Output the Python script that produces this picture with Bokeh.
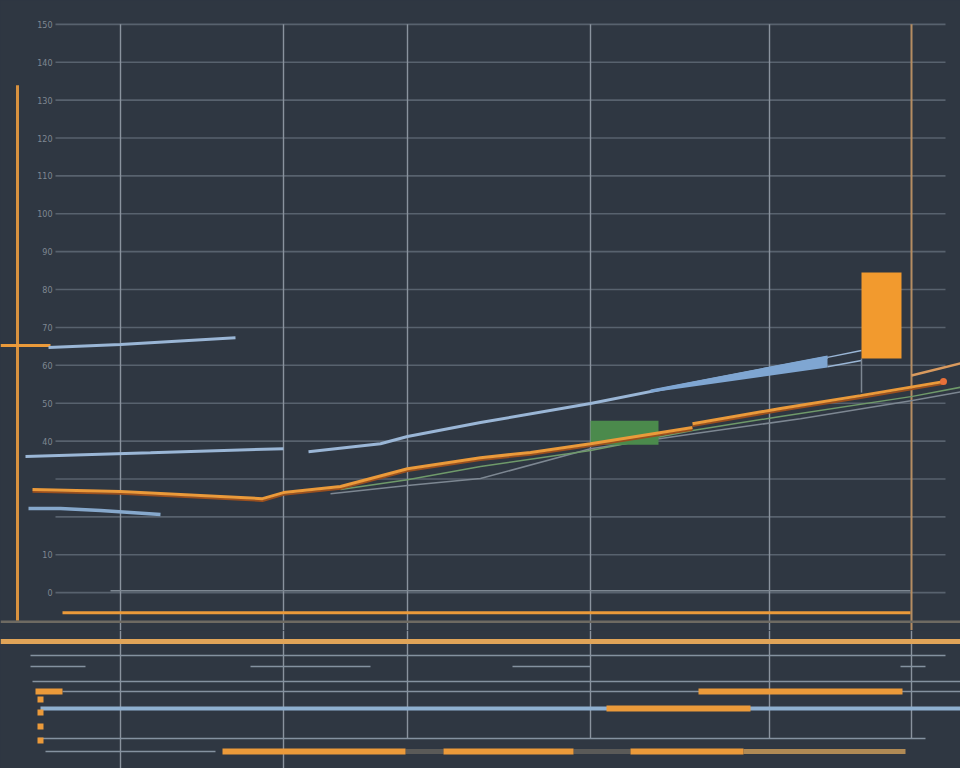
from bokeh.plotting import figure
from bokeh.layouts import column
from bokeh.models import Range1d
from bokeh.embed import file_html
from bokeh.resources import INLINE
from bokeh.core.properties import value

BG = "#2f3742"
GRID = "#58626e"
VGRID = "#8a939e"
ORANGE = "#eb9a3a"
BLUE = "#9ab6d6"
GREEN = "#6f9a6a"
GRAY = "#7d8792"

# ---------------- data: main panel ----------------
y_ticks = [0, 10, 40, 50, 60, 70, 80, 90, 100, 110, 120, 130, 140, 150]
y_grid = [0, 10, 20, 30, 40, 50, 60, 70, 80, 90, 100, 110, 120, 130, 140, 150]
x_grid = [120, 283, 407, 590, 769]
x_marker = [911]
x_left_axis = [17]

blue1_x = [48, 120, 235]
blue1_y = [64.7, 65.5, 67.3]

blue2a_x = [25, 150, 283]
blue2a_y = [35.9, 36.9, 38.0]
blue2b_x = [308, 380, 407, 480, 590, 700, 827]
blue2b_y = [37.2, 39.3, 41.2, 44.9, 49.9, 55.7, 62.1]
wedge_x = [650, 827, 827, 650]
wedge_y = [53.6, 62.6, 59.4, 52.8]
fork_x0 = [827, 827]
fork_y0 = [62.1, 59.6]
fork_x1 = [861, 861]
fork_y1 = [63.9, 61.3]

blue3_x = [28, 60, 100, 160]
blue3_y = [22.2, 22.2, 21.7, 20.6]

orangeA_x = [32, 120, 225, 262, 283, 340, 407, 480, 530, 590, 692]
orangeA_y = [27.2, 26.7, 25.3, 24.8, 26.4, 28.0, 32.7, 35.6, 37.0, 39.3, 43.6]
orangeB_x = [692, 780, 860, 943]
orangeB_y = [44.6, 48.6, 52.0, 55.7]
orangeC_x = [911, 960]
orangeC_y = [57.3, 60.5]
left_stub_x = [0, 50]
left_stub_y = [65.2, 65.2]

green_x = [340, 407, 480, 590, 692, 780, 912, 960]
green_y = [27.2, 29.8, 33.3, 37.5, 42.8, 46.5, 51.8, 54.2]
gray_x = [330, 407, 480, 590, 700, 800, 912, 960]
gray_y = [26.1, 28.3, 30.1, 38.0, 42.2, 45.9, 50.7, 53.0]

green_box = dict(left=[590], right=[658], top=[45.4], bottom=[39.0])
orange_box = dict(left=[861], right=[901], top=[84.5], bottom=[61.8])

base_gray_y = 0.5
base_orange_y = -5.3
base_tan_y = -7.7

# ---------------- data: timeline panel ----------------
tl_line_x0 = [30, 32, 62, 38, 45, 30, 250, 512, 900]
tl_line_x1 = [945, 960, 960, 925, 215, 85, 370, 590, 925]
tl_line_row = [10.5, 7.9, 6.9, 2.2, 0.9, 9.4, 9.4, 9.4, 9.4]

tl_bar_x0 = [35, 698, 606, 222, 443, 630]
tl_bar_x1 = [62, 902, 750, 405, 573, 743]
tl_bar_row = [6.9, 6.9, 5.2, 0.9, 0.9, 0.9]

tl_dark_x0 = [405, 573]
tl_dark_x1 = [443, 630]
tl_dark_row = [0.9, 0.9]
tl_tan_x0 = [743]
tl_tan_x1 = [905]
tl_tan_row = [0.9]

tl_blue_x = [40, 960]
tl_blue_row = [5.2, 5.2]
tl_top_x = [0, 960]
tl_top_row = [11.9, 11.9]

tl_marks_x = [40, 40, 40, 40]
tl_marks_row = [6.1, 4.8, 3.4, 2.0]


def style(fig):
    fig.background_fill_color = BG
    fig.border_fill_color = BG
    fig.outline_line_color = None
    fig.min_border = 0


# ---------------- main panel ----------------
p = figure(width=960, height=630, x_range=Range1d(0, 960), y_range=Range1d(-10, 156.3),
           x_axis_type=None, y_axis_type=None, output_backend="svg",
           toolbar_location=None, min_border=0)
style(p)

p.segment(x0=55, x1=945, y0=y_grid, y1=y_grid, line_color=GRID, line_width=1.6)
p.segment(x0=x_grid, x1=x_grid, y0=150, y1=-10, line_color=VGRID, line_width=1.4)
p.segment(x0=x_marker, x1=x_marker, y0=150, y1=-10, line_color="#b58d62", line_width=2)
p.segment(x0=x_left_axis, x1=x_left_axis, y0=133.9, y1=-7.4, line_color="#d9923f", line_width=3)

p.text(x=52, y=y_ticks, text=[str(v) for v in y_ticks], text_font=value("DejaVu Sans"),
       text_font_size="8px", text_color="#7f8892", text_align="right", text_baseline="middle")

# baselines
p.line([110, 910], [base_gray_y, base_gray_y], line_color=GRAY, line_width=1.5)
p.line([62, 910], [base_orange_y, base_orange_y], line_color=ORANGE, line_width=3)
p.line([0, 960], [base_tan_y, base_tan_y], line_color="#6e6a62", line_width=2.5)

# series
p.line(gray_x, gray_y, line_color=GRAY, line_width=1.5)
p.line(green_x, green_y, line_color=GREEN, line_width=1.5)
p.quad(**green_box, fill_color="#4b8a4c", line_color=None)

p.line(left_stub_x, left_stub_y, line_color=ORANGE, line_width=3)
p.line(blue1_x, blue1_y, line_color=BLUE, line_width=3)
p.line(blue2a_x, blue2a_y, line_color=BLUE, line_width=3)
p.line(blue2b_x, blue2b_y, line_color=BLUE, line_width=3)
p.patch(wedge_x, wedge_y, fill_color="#7fa6d2", line_color=None)
p.segment(x0=fork_x0, y0=fork_y0, x1=fork_x1, y1=fork_y1, line_color=BLUE, line_width=1.5)
p.line(blue3_x, blue3_y, line_color="#86a8cc", line_width=3.5)

p.line(orangeA_x, [v - 0.6 for v in orangeA_y], line_color="#9a4f1e", line_width=2)
p.line(orangeA_x, orangeA_y, line_color=ORANGE, line_width=3)
p.line(orangeB_x, [v - 0.6 for v in orangeB_y], line_color="#9a4f1e", line_width=2)
p.line(orangeB_x, orangeB_y, line_color=ORANGE, line_width=3)
p.scatter(orangeB_x[-1:], orangeB_y[-1:], size=7, fill_color="#e8703a", line_color=None)
p.line(orangeC_x, orangeC_y, line_color="#d99a5e", line_width=2.5)

p.segment(x0=[861], x1=[861], y0=[61.8], y1=[52.8], line_color=GRAY, line_width=1.5)
p.quad(**orange_box, fill_color="#f29a2e", line_color=None)

# ---------------- timeline panel ----------------
t = figure(width=960, height=138, x_range=p.x_range, y_range=Range1d(-0.8, 13),
           x_axis_type=None, y_axis_type=None, output_backend="svg",
           toolbar_location=None, min_border=0)
style(t)

t.segment(x0=x_grid[:2], x1=x_grid[:2], y0=13, y1=-0.8, line_color=VGRID, line_width=1.4)
t.segment(x0=x_grid[2:], x1=x_grid[2:], y0=13, y1=2.2, line_color=VGRID, line_width=1.4)
t.segment(x0=x_marker, x1=x_marker, y0=13, y1=2.2, line_color=VGRID, line_width=1.4)

t.segment(x0=tl_line_x0, x1=tl_line_x1, y0=tl_line_row, y1=tl_line_row, line_color="#8592a0", line_width=1.6)
t.line(tl_top_x, tl_top_row, line_color="#e0a458", line_width=5)
t.line(tl_blue_x, tl_blue_row, line_color="#8fb0d0", line_width=4)
t.segment(x0=tl_dark_x0, x1=tl_dark_x1, y0=tl_dark_row, y1=tl_dark_row, line_color="#5a5a58", line_width=5)
t.segment(x0=tl_tan_x0, x1=tl_tan_x1, y0=tl_tan_row, y1=tl_tan_row, line_color="#b08a55", line_width=5)
t.segment(x0=tl_bar_x0, x1=tl_bar_x1, y0=tl_bar_row, y1=tl_bar_row, line_color=ORANGE, line_width=6)
t.scatter(tl_marks_x, tl_marks_row, marker="square", size=6, fill_color=ORANGE, line_color=None)

layout = column(p, t)
html = file_html(layout, INLINE)
html = html.replace("</head>", "<style>html,body{background:%s;margin:0;}</style></head>" % BG, 1)
open("out.html", "w").write(html)
